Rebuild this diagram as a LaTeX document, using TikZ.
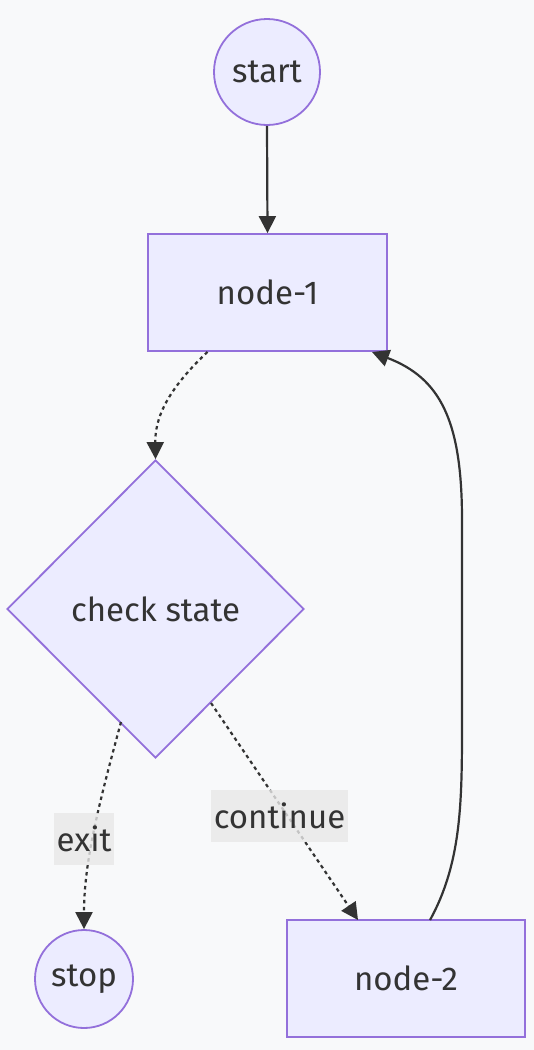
\documentclass[tikz,border=0pt]{standalone}
\usepackage{fontspec}
\setmainfont{Fira Sans}
\usetikzlibrary{arrows.meta,shapes.geometric,calc}
\definecolor{bg}{HTML}{F8F9FA}
\definecolor{nodefill}{HTML}{ECECFF}
\definecolor{nodeline}{HTML}{9370DB}
\definecolor{edge}{HTML}{333333}
\definecolor{lblbg}{HTML}{E8E8E8}
\tikzset{
  base/.style={draw=nodeline, fill=nodefill, line width=1.8pt, text=edge, font=\fontsize{33}{40}\selectfont, inner sep=0pt},
  circ/.style={base, circle},
  box/.style={base, rectangle},
  dia/.style={base, diamond, aspect=1},
  link/.style={draw=edge, line width=2.2pt, -{Triangle[length=17pt,width=17pt]}},
  dotlink/.style={link, dash pattern=on 3.5pt off 3.5pt},
  lbl/.style={fill=lblbg, fill opacity=0.8, text opacity=1, text=edge, font=\fontsize{33}{40}\selectfont, inner sep=1pt, minimum height=52pt}
}
\begin{document}
\begin{tikzpicture}[x=1pt,y=-1pt]
\fill[bg] (0,0) rectangle (534,1050);
\useasboundingbox (0,0) rectangle (534,1050);
\node[circ, minimum size=106pt] (start) at (267,72) {start};
\node[box, minimum width=239pt, minimum height=117pt] (n1) at (267.5,292.5) {node-1};
\node[dia, minimum width=297pt, minimum height=298pt] (chk) at (155.5,609) {check state};
\node[circ, minimum size=98pt] (stop) at (84,979) {stop};
\node[box, minimum width=238pt, minimum height=117pt] (n2) at (406,978.5) {node-2};

\draw[link] (start.south) -- (n1.north);
\draw[dotlink] ($(n1.south)+(-60,0)$) .. controls (165,392) and (155,420) .. (chk.north);
\draw[dotlink] (121,722) .. controls (100,800) and (84,860) .. (stop.north);
\draw[dotlink] (211,703) -- (358,920);
\coordinate (n2top) at (430,920);
\coordinate (n1br) at (372,352);
\draw[link] (n2top) .. controls (462,862) and (462,800) .. (462,720) -- (462,520) .. controls (462,420) and (440,378) .. (n1br);
\node[lbl, minimum width=60pt] (exitl) at (84,839) {exit};
\node[lbl, minimum width=137pt] (contl) at (279.5,816) {continue};
\end{tikzpicture}
\end{document}
